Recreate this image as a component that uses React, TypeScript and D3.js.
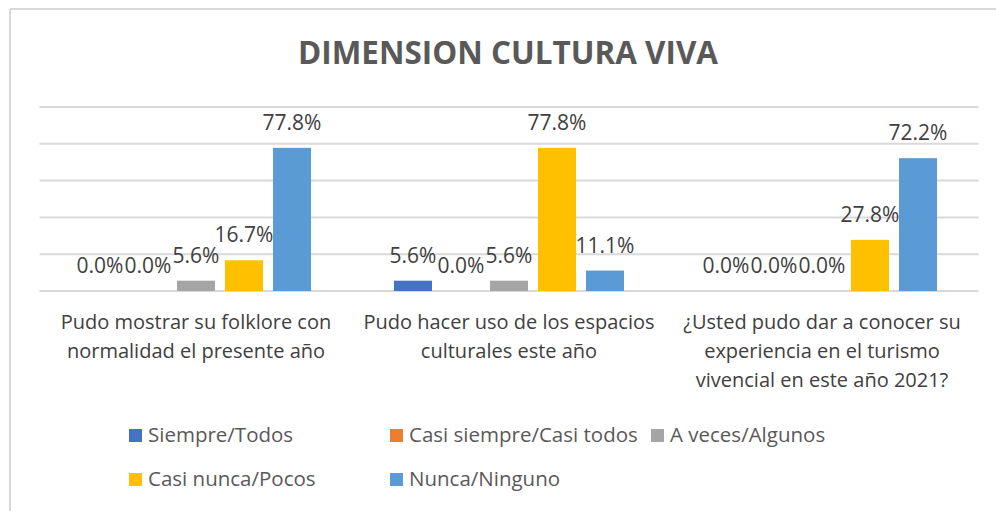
import React from "react";
import * as d3 from "d3";

const title = "DIMENSION CULTURA VIVA";
const categories = [
  "Pudo mostrar su folklore con\nnormalidad el presente año",
  "Pudo hacer uso de los espacios\nculturales este año",
  "¿Usted pudo dar a conocer su\nexperiencia en el turismo\nvivencial en este año 2021?",
];
const seriesNames = [
  "Siempre/Todos",
  "Casi siempre/Casi todos",
  "A veces/Algunos",
  "Casi nunca/Pocos",
  "Nunca/Ninguno",
];
const seriesColors = ["#4472C4", "#ED7D31", "#A5A5A5", "#FFC000", "#5B9BD5"];
// values per series, per category
const siempre = [0.0, 5.6, 0.0];
const casiSiempre = [0.0, 0.0, 0.0];
const aVeces = [5.6, 5.6, 0.0];
const casiNunca = [16.7, 77.8, 27.8];
const nunca = [77.8, 11.1, 72.2];
const seriesValues = [siempre, casiSiempre, aVeces, casiNunca, nunca];
const yTicks = [0, 20, 40, 60, 80, 100];

const W = 996;
const H = 511;
const FONT = "'Open Sans', 'Liberation Sans', sans-serif";

export default function App() {
  const x0 = d3.scaleBand<string>().domain(categories).range([39.5, 978.5]).paddingInner(0).paddingOuter(0);
  const x1 = d3
    .scaleBand<string>()
    .domain(seriesNames)
    .range([0, x0.bandwidth()])
    .paddingInner(10 / 48)
    .paddingOuter(0.864);
  const y = d3.scaleLinear().domain([0, 100]).range([291, 107]);

  const legendRows = [
    [0, 1, 2],
    [3, 4],
  ];
  const legendColX = [129, 390, 651];
  const legendRowY = [435, 479];

  return (
    <svg
      width={W}
      height={H}
      style={{ position: "absolute", left: 0, top: 0, background: "#fff" }}
      fontFamily={FONT}
    >
      <rect x={0} y={0} width={W} height={H} fill="#fff" />
      {/* chart frame */}
      <line x1={10} x2={W} y1={9} y2={9} stroke="#D9D9D9" strokeWidth={2} />
      <line x1={10} x2={10} y1={9} y2={H} stroke="#D9D9D9" strokeWidth={2} />

      <text
        x={508}
        y={64}
        textAnchor="middle"
        fontSize={32.5}
        fontWeight="bold"
        fill="#595959"
        textLength={420}
        lengthAdjust="spacingAndGlyphs"
      >
        {title}
      </text>

      {/* gridlines */}
      {yTicks.map((t) => (
        <line
          key={t}
          x1={x0.range()[0]}
          x2={x0.range()[1]}
          y1={y(t)}
          y2={y(t)}
          stroke="#D9D9D9"
          strokeWidth={2}
        />
      ))}

      {/* bars */}
      {categories.map((c, ci) => (
        <g key={c} transform={`translate(${x0(c)},0)`}>
          {seriesNames.map((s, si) => {
            const v = seriesValues[si][ci];
            const bx = x1(s)!;
            return (
              <g key={s}>
                {v > 0 && (
                  <rect
                    x={bx}
                    y={y(v)}
                    width={x1.bandwidth()}
                    height={y(0) - y(v)}
                    fill={seriesColors[si]}
                  />
                )}
                <text
                  x={bx + x1.bandwidth() / 2}
                  y={y(v) - 18}
                  textAnchor="middle"
                  fontSize={21}
                  fill="#404040"
                >
                  {v.toFixed(1) + "%"}
                </text>
              </g>
            );
          })}
        </g>
      ))}

      {/* category labels */}
      {categories.map((c) => (
        <text
          key={c}
          x={x0(c)! + x0.bandwidth() / 2}
          y={329}
          textAnchor="middle"
          fontSize={20}
          fill="#404040"
        >
          {c.split("\n").map((line, li) => (
            <tspan key={li} x={x0(c)! + x0.bandwidth() / 2} dy={li === 0 ? 0 : 29}>
              {line}
            </tspan>
          ))}
        </text>
      ))}

      {/* legend */}
      {legendRows.map((row, ri) =>
        row.map((si, k) => (
          <g key={si} transform={`translate(${legendColX[k]},${legendRowY[ri]})`}>
            <rect x={0} y={-6} width={13} height={13} fill={seriesColors[si]} />
            <text x={19} y={7} fontSize={20.5} fill="#595959">
              {seriesNames[si]}
            </text>
          </g>
        ))
      )}
    </svg>
  );
}
